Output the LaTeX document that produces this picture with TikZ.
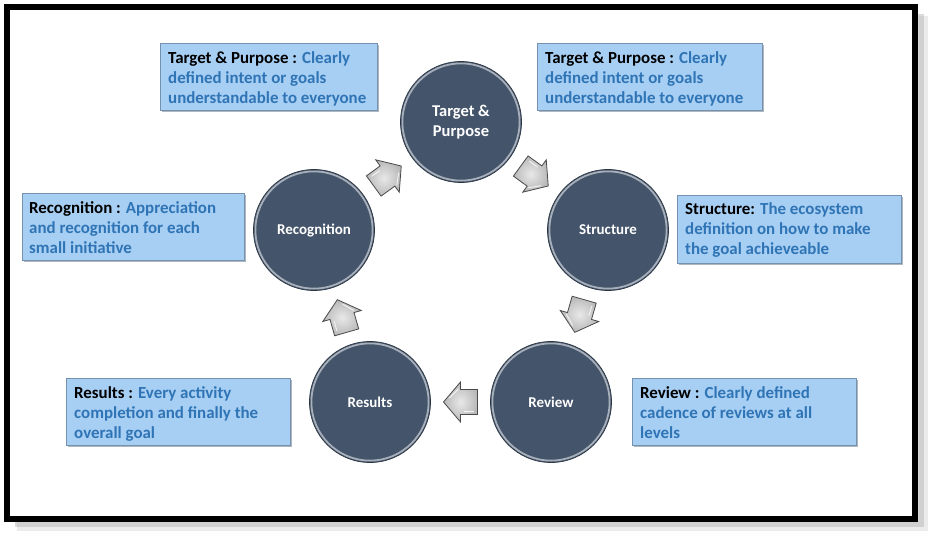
\documentclass[tikz,border=0pt]{standalone}
\usepackage{fontspec}
\setmainfont{Carlito}
\usetikzlibrary{calc}
\definecolor{circfill}{HTML}{44546A}
\definecolor{circedge}{HTML}{2B3644}
\definecolor{rimcol}{HTML}{B9C0C9}
\definecolor{boxfill}{HTML}{A7CEF3}
\definecolor{boxedge}{HTML}{7591AD}
\definecolor{boxshadow}{HTML}{5E6E80}
\definecolor{desccol}{HTML}{2F74B5}
\definecolor{arrowedge}{HTML}{4A4A4A}
\begin{document}
\begin{tikzpicture}[x=1pt,y=-1pt,
  cyc/.style={circle, minimum size=121pt, inner sep=0pt, fill=circfill, draw=circedge,
    line width=0.7pt, text=white, align=center,
    font=\bfseries\fontsize{15}{19}\selectfont},
  bigcyc/.style={cyc, font=\bfseries\fontsize{16.5}{20}\selectfont},
  rim/.style={draw=rimcol, line width=1.8pt, opacity=0.85},
  infobox/.style={draw=boxedge, fill=boxfill, line width=1pt},
  boxshade/.style={fill=boxshadow, opacity=0.5},
  infotext/.style={anchor=north west, inner sep=0pt, align=left,
    font=\bfseries\fontsize{16.9}{20}\selectfont},
  pics/barrow/.style={code={
    \path[draw=arrowedge, line width=0.8pt, inner color=gray!18, outer color=gray!55]
      (-17,-12.5) -- (0,-12.5) -- (0,-20) -- (17,0) -- (0,20) -- (0,12.5) -- (-17,12.5) -- cycle;
    \draw[white, line width=0.9pt, opacity=0.8] (-13,-9) -- (-3,-9);
    \draw[white, line width=0.9pt, opacity=0.8] (2,13) -- (11,4);
  }}
]
\useasboundingbox (0,0) rectangle (932,536);
\fill[white] (0,0) rectangle (932,536);

% frame with shadow
\draw[black!40, line width=6pt, opacity=0.35] (15,524) -- (921,524) -- (921,14);
\draw[black!30, line width=9pt, opacity=0.25] (17,526) -- (923,526) -- (923,16);
\draw[black, line width=6pt] (7,7) rectangle (915,519);

% circles
\node[bigcyc] (T)  at (461,122) {Target \&\\Purpose};
\node[cyc] (S)  at (608,230) {Structure};
\node[cyc] (Rv) at (551,402) {Review};
\node[cyc] (Rs) at (370,402) {Results};
\node[cyc] (Rc) at (314,230) {Recognition};
\foreach \c in {T,S,Rv,Rs,Rc} {\draw[rim] (\c) circle (58.6);}

% block arrows between circles
\pic[rotate=36]   at ($(Rc)!0.5!(T)$)  {barrow};
\pic[rotate=-36]  at ($(T)!0.5!(S)$)   {barrow};
\pic[rotate=-106] at ($(S)!0.5!(Rv)$)  {barrow};
\pic[rotate=180]  at ($(Rv)!0.5!(Rs)$) {barrow};
\pic[rotate=106]  at ($(Rs)!0.5!(Rc)$) {barrow};

% info boxes
\fill[boxshade] (161.5,44.5) rectangle (378.5,111.5);
\draw[infobox] (160,43) rectangle (377,110);
\node[infotext] (tT1) at (168,51) {\rule{0pt}{12pt}Target \& Purpose : \textcolor{desccol}{Clearly}\\
  \textcolor{desccol}{defined intent or goals}\\ \textcolor{desccol}{understandable to everyone}};

\fill[boxshade] (538.5,44.5) rectangle (763.5,111.5);
\draw[infobox] (537,43) rectangle (762,110);
\node[infotext] (tT2) at (545,51) {\rule{0pt}{12pt}Target \& Purpose : \textcolor{desccol}{Clearly}\\
  \textcolor{desccol}{defined intent or goals}\\ \textcolor{desccol}{understandable to everyone}};

\fill[boxshade] (23.5,194.5) rectangle (245.5,261.5);
\draw[infobox] (22,193) rectangle (244,260);
\node[infotext] (tRc) at (29,201) {\rule{0pt}{12pt}Recognition : \textcolor{desccol}{Appreciation}\\
  \textcolor{desccol}{and recognition for each}\\ \textcolor{desccol}{small initiative}};

\fill[boxshade] (678.5,196.5) rectangle (902.5,264.5);
\draw[infobox] (677,195) rectangle (901,263);
\node[infotext] (tS) at (685,202) {\rule{0pt}{12pt}Structure: \textcolor{desccol}{The ecosystem}\\
  \textcolor{desccol}{definition on how to make}\\ \textcolor{desccol}{the goal achieveable}};

\fill[boxshade] (67.5,379.5) rectangle (291.5,446.5);
\draw[infobox] (66,378) rectangle (290,445);
\node[infotext] (tRs) at (74,386) {\rule{0pt}{12pt}Results : \textcolor{desccol}{Every activity}\\
  \textcolor{desccol}{completion and finally the}\\ \textcolor{desccol}{overall goal}};

\fill[boxshade] (633.5,379.5) rectangle (857.5,446.5);
\draw[infobox] (632,378) rectangle (856,445);
\node[infotext] (tRv) at (640,386) {\rule{0pt}{12pt}Review : \textcolor{desccol}{Clearly defined}\\
  \textcolor{desccol}{cadence of reviews at all}\\ \textcolor{desccol}{levels}};
\end{tikzpicture}
\end{document}
